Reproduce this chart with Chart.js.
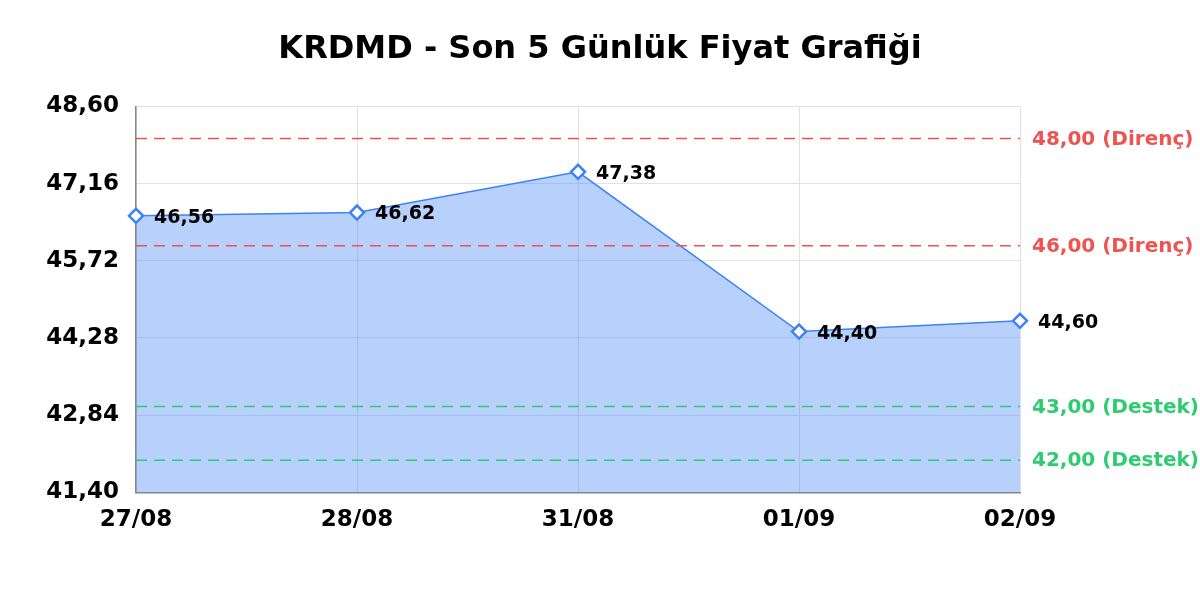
<!DOCTYPE html>
<html>
<head>
<meta charset="utf-8">
<script src="https://cdn.jsdelivr.net/npm/chart.js@4/dist/chart.umd.min.js"></script>
<style>
  html, body { margin: 0; padding: 0; background: #fff; }
  #wrap { width: 1200px; height: 600px; }
</style>
</head>
<body>
<div id="wrap"><canvas id="chart"></canvas></div>
<script>
// data
const labels = ['27/08', '28/08', '31/08', '01/09', '02/09'];
const prices = [46.56, 46.62, 47.38, 44.40, 44.60];
const yTicks = [41.40, 42.84, 44.28, 45.72, 47.16, 48.60];
const resistance = [48.00, 46.00];
const support = [43.00, 42.00];

const FONT = "'DejaVu Sans', sans-serif";
const RED = '#ef5350';
const GREEN = '#2ecc71';

const fmt = v => v.toFixed(2).replace('.', ',');

// dashed support / resistance lines with labels on the right
const levelLines = {
  id: 'levelLines',
  afterDatasetsDraw(chart) {
    const { ctx, chartArea, scales } = chart;
    const draw = (val, color, word) => {
      const y = scales.y.getPixelForValue(val);
      ctx.save();
      ctx.strokeStyle = color;
      ctx.lineWidth = 1.5;
      ctx.setLineDash([11, 7]);
      ctx.beginPath();
      ctx.moveTo(chartArea.left, y);
      ctx.lineTo(chartArea.right, y);
      ctx.stroke();
      ctx.setLineDash([]);
      ctx.fillStyle = color;
      ctx.font = 'bold 20px ' + FONT;
      ctx.textAlign = 'left';
      ctx.textBaseline = 'middle';
      ctx.fillText(fmt(val) + ' (' + word + ')', chartArea.right + 12, y + 1);
      ctx.restore();
    };
    resistance.forEach(v => draw(v, RED, 'Direnç'));
    support.forEach(v => draw(v, GREEN, 'Destek'));

    // value labels next to each point
    const meta = chart.getDatasetMeta(0);
    ctx.save();
    ctx.fillStyle = '#000';
    ctx.font = 'bold 19px ' + FONT;
    ctx.textAlign = 'left';
    ctx.textBaseline = 'middle';
    meta.data.forEach((pt, i) => {
      ctx.fillText(fmt(prices[i]), pt.x + 18, pt.y + 2);
    });
    ctx.restore();
  }
};

new Chart(document.getElementById('chart'), {
  type: 'line',
  data: {
    labels: labels,
    datasets: [{
      data: prices,
      borderColor: '#3b82f6',
      borderWidth: 1.5,
      backgroundColor: 'rgba(59,130,246,0.37)',
      fill: 'start',
      tension: 0,
      pointStyle: 'rectRot',
      pointRadius: 7,
      pointBorderWidth: 2.5,
      pointBackgroundColor: '#fff',
      pointBorderColor: '#3b82f6'
    }]
  },
  options: {
    responsive: true,
    maintainAspectRatio: false,
    animation: false,
    layout: { padding: { top: 10, right: 0, bottom: 52, left: 0 } },
    plugins: {
      legend: { display: false },
      tooltip: { enabled: false },
      title: {
        display: true,
        text: 'KRDMD - Son 5 Günlük Fiyat Grafiği',
        color: '#000',
        font: { family: FONT, size: 32, weight: 'bold' },
        padding: { top: 20, bottom: 38 }
      }
    },
    scales: {
      x: {
        offset: false,
        grid: { color: '#e2e2e2', drawTicks: false },
        border: { display: true, color: '#888', width: 1.5 },
        ticks: {
          color: '#000',
          padding: 14,
          maxRotation: 0,
          font: { family: FONT, size: 23, weight: 'bold' }
        }
      },
      y: {
        min: 41.40,
        max: 48.60,
        afterBuildTicks: scale => { scale.ticks = yTicks.map(v => ({ value: v })); },
        afterFit: scale => { scale.width = 136; },
        grid: { color: '#e2e2e2', drawTicks: false },
        border: { display: true, color: '#888', width: 1.5 },
        ticks: {
          color: '#000',
          padding: 17,
          font: { family: FONT, size: 23, weight: 'bold' },
          callback: v => fmt(v)
        }
      },
      // empty right axis, only reserves room for the level labels
      yRight: {
        position: 'right',
        min: 41.40,
        max: 48.60,
        afterFit: scale => { scale.width = 180; },
        grid: { display: false },
        border: { display: false },
        ticks: { display: false }
      }
    }
  },
  plugins: [levelLines]
});
</script>
</body>
</html>
